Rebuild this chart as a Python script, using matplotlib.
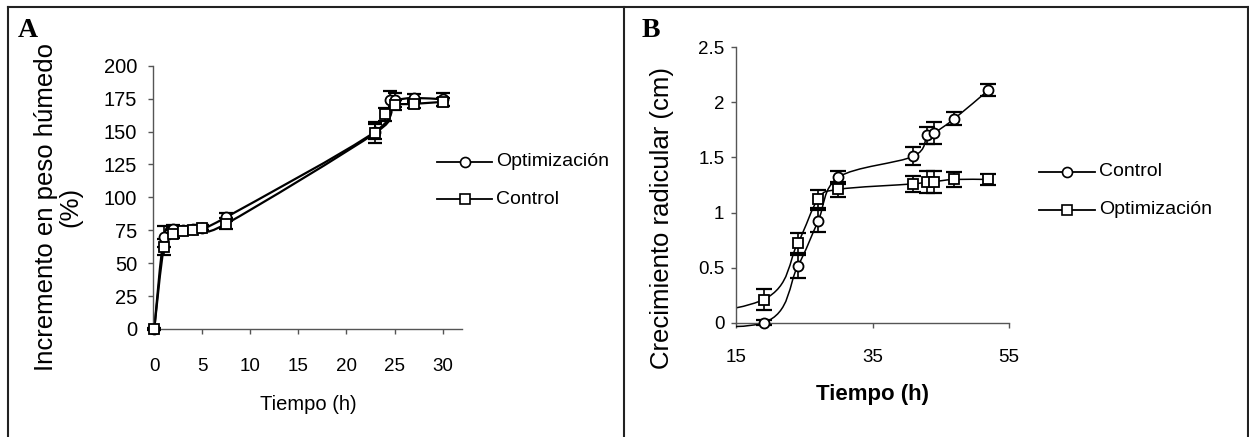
import numpy as np
import matplotlib.pyplot as plt
from matplotlib.path import Path
from matplotlib.patches import PathPatch
from matplotlib.lines import Line2D

plt.rcParams['font.family'] = ['Liberation Sans', 'DejaVu Sans']

# ---- panel A: incremento en peso humedo (%)
a_opt_t = [0, 1, 2, 3, 4, 5, 7.5, 23, 24.5, 25, 27, 30]
a_opt_v = [0, 70, 76, 75, 76, 77, 85, 150, 174, 174, 175.5, 174.5]
a_opt_e = [0, 8, 3, 2, 2, 2, 3, 6, 7, 5, 3, 5]

a_ctl_t = [0, 1, 2, 3, 4, 5, 7.5, 23, 24, 25, 27, 30]
a_ctl_v = [0, 62, 72.5, 74.5, 75.5, 77, 80, 149, 163, 170, 171, 172.5]
a_ctl_e = [1, 6, 3, 2, 2, 2, 4, 8, 5, 4, 3, 3]

a_xticks = [0, 5, 10, 15, 20, 25, 30]
a_yticks = [0, 25, 50, 75, 100, 125, 150, 175, 200]

# ---- panel B: crecimiento radicular (cm)
b_ctl_t = [0, 19, 24, 27, 30, 41, 43, 44, 47, 52]
b_ctl_v = [0, 0, 0.51, 0.92, 1.32, 1.51, 1.70, 1.72, 1.85, 2.11]
b_ctl_e = [0, 0.02, 0.10, 0.10, 0.06, 0.08, 0.08, 0.10, 0.06, 0.055]

b_opt_t = [0, 19, 24, 27, 30, 41, 43, 44, 47, 52]
b_opt_v = [0, 0.21, 0.72, 1.12, 1.21, 1.26, 1.28, 1.28, 1.30, 1.30]
b_opt_e = [0, 0.095, 0.09, 0.08, 0.07, 0.07, 0.10, 0.10, 0.07, 0.05]

b_xticks = [15, 35, 55]
b_yticks = [0, 0.5, 1, 1.5, 2, 2.5]
b_yticklabels = ['0', '0.5', '1', '1.5', '2', '2.5']

W, H = 1249, 437


def fx(px):
    return px / W


def fy(py):
    return 1 - py / H


def smooth_line(ax, x, y, lw):
    # excel style smoothed line: cubic bezier through the points
    pts = np.column_stack([x, y]).astype(float)
    verts = [pts[0]]
    codes = [Path.MOVETO]
    n = len(pts)
    for i in range(n - 1):
        p0 = pts[i - 1] if i > 0 else pts[i]
        p1 = pts[i]
        p2 = pts[i + 1]
        p3 = pts[i + 2] if i + 2 < n else pts[i + 1]
        verts += [p1 + (p2 - p0) / 6, p2 - (p3 - p1) / 6, p2]
        codes += [Path.CURVE4] * 3
    ax.add_patch(PathPatch(Path(verts, codes), fill=False, lw=lw, ec='black', zorder=2))


def series(ax, t, v, e, marker, lw, ms, cap):
    smooth_line(ax, t, v, lw)
    ax.errorbar(t, v, yerr=e, fmt='none', ecolor='black', elinewidth=1.2,
                capsize=cap, capthick=1.6, zorder=3)
    ax.plot(t, v, ls='none', marker=marker, ms=ms, mfc='white', mec='black',
            mew=1.3, zorder=4)


def legend_row(x0, x1, y, marker, label, fs):
    fig.add_artist(Line2D([fx(x0), fx(x1)], [fy(y), fy(y)], color='black', lw=1.3,
                          transform=fig.transFigure))
    fig.add_artist(Line2D([fx((x0 + x1) / 2)], [fy(y)], marker=marker, ms=7.2,
                          mfc='white', mec='black', mew=1.2, transform=fig.transFigure))
    fig.text(fx(x1 + 4), fy(y), label, fontsize=fs, va='center', ha='left')


def style_axis(ax):
    for s in ['top', 'right']:
        ax.spines[s].set_visible(False)
    for s in ['left', 'bottom']:
        ax.spines[s].set_color('#555555')
        ax.spines[s].set_linewidth(1.0)
    ax.tick_params(direction='out', length=3.6, width=1.0, color='#555555')


fig = plt.figure(figsize=(W / 100, H / 100), dpi=100)

# ---------- panel A
axA = fig.add_axes([fx(153.3), fy(329), fx(461.8 - 153.3), (329 - 65.7) / H])
series(axA, a_opt_t, a_opt_v, a_opt_e, 'o', 1.6, 7.2, 5)
series(axA, a_ctl_t, a_ctl_v, a_ctl_e, 's', 1.6, 7.2, 5)
axA.set_xlim(-0.1, 32)
axA.set_ylim(0, 200)
for ln in axA.lines:
    ln.set_clip_on(False)
axA.set_xticks(a_xticks)
axA.set_yticks(a_yticks)
style_axis(axA)
axA.tick_params(axis='x', pad=17, labelsize=13.5)
axA.tick_params(axis='y', pad=8, labelsize=14.5)

fig.text(fx(18), fy(37), 'A', fontsize=20, fontweight='bold',
         family='Liberation Serif', va='baseline', ha='left')
fig.text(fx(308), fy(410), 'Tiempo (h)', fontsize=14.5, ha='center', va='baseline')
fig.text(fx(58), fy(207), 'Incremento en peso húmedo\n(%)', fontsize=18.5,
         rotation=90, ha='center', va='center', multialignment='center',
         linespacing=1.0)

legend_row(437, 492, 161.7, 'o', 'Optimización', 14)
legend_row(437, 492, 199, 's', 'Control', 14)

# ---------- panel B
b_bottom = 322.7 + 0.06 * (322.7 - 47.2) / 2.5
axB = fig.add_axes([fx(736.3), fy(b_bottom), fx(1008.7 - 736.3), (b_bottom - 47.2) / H])
series(axB, b_ctl_t, b_ctl_v, b_ctl_e, 'o', 1.1, 7.2, 5.6)
series(axB, b_opt_t, b_opt_v, b_opt_e, 's', 1.1, 7.2, 5.6)
axB.set_xlim(15, 55)
axB.set_ylim(-0.06, 2.5)
axB.spines['bottom'].set_position(('data', 0))
axB.spines['left'].set_bounds(0, 2.5)
axB.set_xticks(b_xticks)
axB.set_yticks(b_yticks)
axB.set_yticklabels(b_yticklabels)
style_axis(axB)
axB.tick_params(axis='x', pad=15.5, labelsize=13.5)
axB.tick_params(axis='y', pad=5, labelsize=13.5)

fig.text(fx(642), fy(37), 'B', fontsize=20, fontweight='bold',
         family='Liberation Serif', va='baseline', ha='left')
fig.text(fx(872.6), fy(400), 'Tiempo (h)', fontsize=16, fontweight='bold',
         ha='center', va='baseline')
fig.text(fx(662.5), fy(218), 'Crecimiento radicular (cm)', fontsize=18.5,
         rotation=90, ha='center', va='center')

legend_row(1039, 1095, 171.7, 'o', 'Control', 14)
legend_row(1039, 1095, 210, 's', 'Optimización', 14)

# ---------- frame around both panels
frame = dict(color='#222222', lw=1.5, transform=fig.transFigure)
fig.add_artist(Line2D([fx(8), fx(1248)], [fy(6.5), fy(6.5)], **frame))
fig.add_artist(Line2D([fx(8), fx(8)], [fy(6.5), 0], **frame))
fig.add_artist(Line2D([fx(624.3), fx(624.3)], [fy(6.5), 0], **frame))
fig.add_artist(Line2D([fx(1247.5), fx(1247.5)], [fy(6.5), 0], **frame))

fig.savefig('out.png', dpi=100)
